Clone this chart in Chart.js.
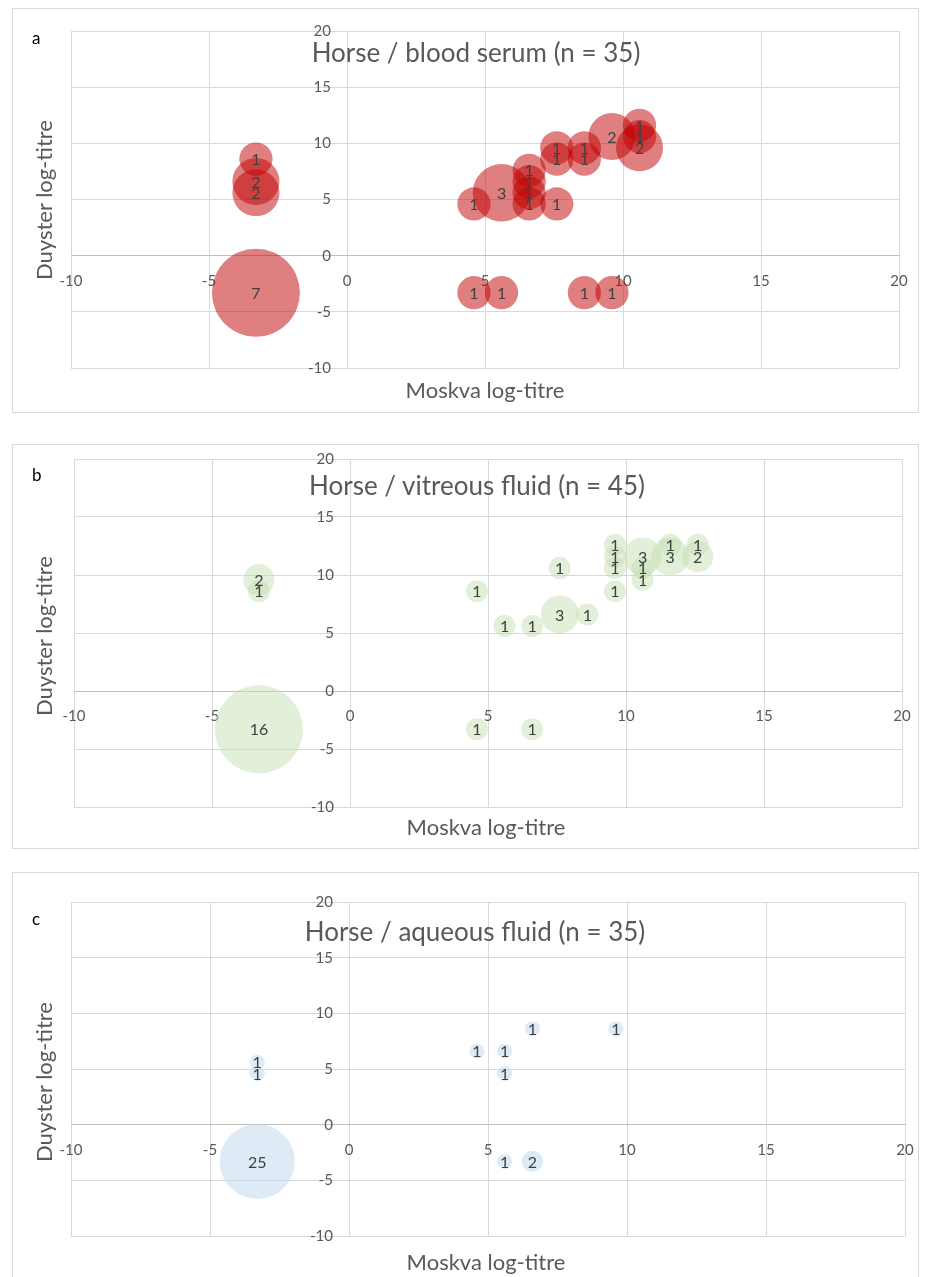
<!DOCTYPE html>
<html>
<head>
<meta charset="utf-8">
<script src="https://cdn.jsdelivr.net/npm/chart.js@4.4.1/dist/chart.umd.min.js"></script>
<style>
  html, body { margin: 0; padding: 0; background: #fff; }
  body { width: 928px; height: 1277px; position: relative; overflow: hidden; font-family: Lato, "Open Sans", sans-serif; }
  .frame { position: absolute; left: 12px; width: 907px; border: 1px solid #d9d9d9; box-sizing: border-box; }
  .wrap { position: absolute; left: 0; width: 928px; }
  .wrap canvas { position: absolute; left: 0; top: 0; }
  .txt { position: absolute; white-space: nowrap; transform: translate(-50%, -50%); color: #595959; line-height: 1; }
  .letter { position: absolute; white-space: nowrap; color: #000; font-size: 17px; line-height: 1; }
  .title { font-size: 26px; }
  .axt { font-size: 22px; }
  .rot { transform: translate(-50%, -50%) rotate(-90deg); }
</style>
</head>
<body>
  <div class="frame" style="top:8px;height:405px;"></div>
  <div class="frame" style="top:444px;height:405px;"></div>
  <div class="frame" style="top:872px;height:410px;"></div>

  <div class="wrap" style="top:8px;height:404px;"><canvas id="chartA" width="928" height="404"></canvas></div>
  <div class="wrap" style="top:444px;height:404px;"><canvas id="chartB" width="928" height="404"></canvas></div>
  <div class="wrap" style="top:872px;height:405px;"><canvas id="chartC" width="928" height="405"></canvas></div>

  <div class="letter" style="left:32px;top:29px;">a</div>
  <div class="txt title" style="left:476px;top:52px;">Horse / blood serum (n = 35)</div>
  <div class="txt axt rot" style="left:44px;top:200px;">Duyster log-titre</div>
  <div class="txt axt" style="left:485px;top:390px;">Moskva log-titre</div>

  <div class="letter" style="left:32px;top:466px;">b</div>
  <div class="txt title" style="left:477px;top:485px;">Horse / vitreous fluid (n = 45)</div>
  <div class="txt axt rot" style="left:44px;top:636px;">Duyster log-titre</div>
  <div class="txt axt" style="left:486px;top:827px;">Moskva log-titre</div>

  <div class="letter" style="left:32px;top:910px;">c</div>
  <div class="txt title" style="left:475px;top:931px;">Horse / aqueous fluid (n = 35)</div>
  <div class="txt axt rot" style="left:44px;top:1082px;">Duyster log-titre</div>
  <div class="txt axt" style="left:486px;top:1262px;">Moskva log-titre</div>

<script>
// Axis range and tick spacing shared by all three panels
const axisMin = -10;
const axisMax = 20;
const tickStep = 5;

// Panel a: blood serum — Moskva log-titre (x), Duyster log-titre (y), number of horses (n)
const serumX = [-3.3, -3.3, -3.3, -3.3, 4.6, 5.6, 8.6, 9.6, 4.6, 5.6, 6.6, 6.6, 6.6, 6.6, 7.6, 7.6, 7.6, 8.6, 8.6, 9.6, 10.6, 10.6, 10.6];
const serumY = [-3.3, 8.6, 6.6, 5.6, -3.3, -3.3, -3.3, -3.3, 4.6, 5.6, 4.6, 5.6, 6.6, 7.6, 4.6, 9.6, 8.6, 9.6, 8.6, 10.6, 11.6, 10.6, 9.6];
const serumN = [7, 1, 2, 2, 1, 1, 1, 1, 1, 3, 1, 1, 1, 1, 1, 1, 1, 1, 1, 2, 1, 1, 2];

// Panel b: vitreous fluid
const vitreousX = [-3.3, -3.3, -3.3, 4.6, 6.6, 4.6, 5.6, 6.6, 7.6, 8.6, 7.6, 9.6, 9.6, 9.6, 9.6, 10.6, 10.6, 10.6, 11.6, 11.6, 12.6, 12.6];
const vitreousY = [-3.3, 9.6, 8.6, -3.3, -3.3, 8.6, 5.6, 5.6, 6.6, 6.6, 10.6, 12.6, 11.6, 10.6, 8.6, 11.6, 10.6, 9.6, 12.6, 11.6, 12.6, 11.6];
const vitreousN = [16, 2, 1, 1, 1, 1, 1, 1, 3, 1, 1, 1, 1, 1, 1, 3, 1, 1, 1, 3, 1, 2];

// Panel c: aqueous fluid
const aqueousX = [-3.3, -3.3, -3.3, 4.6, 5.6, 5.6, 6.6, 9.6, 5.6, 6.6];
const aqueousY = [-3.3, 5.6, 4.6, 6.6, 6.6, 4.6, 8.6, 8.6, -3.3, -3.3];
const aqueousN = [25, 1, 1, 1, 1, 1, 1, 1, 1, 2];

const tickFont = { family: 'Lato', size: 15 };
const tickColor = '#595959';

// Writes the count at the centre of each bubble
const countLabels = {
  id: 'countLabels',
  afterDatasetsDraw(chart) {
    const ctx = chart.ctx;
    ctx.save();
    ctx.font = '16px Lato';
    ctx.fillStyle = '#404040';
    ctx.textAlign = 'center';
    ctx.textBaseline = 'middle';
    chart.data.datasets.forEach((ds, i) => {
      const meta = chart.getDatasetMeta(i);
      meta.data.forEach((el, j) => {
        ctx.fillText(String(ds.counts[j]), el.x, el.y + 1);
      });
    });
    ctx.restore();
  }
};

// Axes sit on the zero lines, so they should not reserve any room of their own
function noScalePadding(scale) {
  scale.paddingLeft = 0;
  scale.paddingRight = 0;
  scale.paddingTop = 0;
  scale.paddingBottom = 0;
}

function bubbleChart(id, xs, ys, ns, color, maxRadius, pad) {
  const maxN = Math.max(...ns);
  const points = xs.map((x, i) => ({ x: x, y: ys[i], r: maxRadius * Math.sqrt(ns[i] / maxN) }));
  return new Chart(document.getElementById(id), {
    type: 'bubble',
    data: {
      datasets: [{
        data: points,
        counts: ns,
        backgroundColor: color,
        borderWidth: 0,
        hoverBorderWidth: 0,
        clip: false
      }]
    },
    options: {
      responsive: false,
      animation: false,
      events: [],
      layout: { autoPadding: false, padding: pad },
      plugins: { legend: { display: false }, tooltip: { enabled: false }, title: { display: false } },
      scales: {
        x: {
          type: 'linear',
          min: axisMin, max: axisMax,
          position: { y: 0 },
          ticks: { stepSize: tickStep, padding: 16, color: tickColor, font: tickFont },
          grid: { color: '#d9d9d9', lineWidth: 1, drawTicks: false },
          border: { color: '#bfbfbf', width: 1 },
          afterFit: noScalePadding
        },
        y: {
          type: 'linear',
          min: axisMin, max: axisMax,
          // labels end a little left of the zero line
          position: { x: -0.58 },
          ticks: { stepSize: tickStep, padding: 0, color: tickColor, font: tickFont },
          grid: { color: '#d9d9d9', lineWidth: 1, drawTicks: false },
          border: { display: false },
          afterFit: noScalePadding
        }
      }
    },
    plugins: [countLabels]
  });
}

function drawAll() {
  bubbleChart('chartA', serumX, serumY, serumN, 'rgba(192,0,0,0.5)', 44, { left: 71, right: 29, top: 23, bottom: 44 });
  bubbleChart('chartB', vitreousX, vitreousY, vitreousN, 'rgba(197,224,180,0.5)', 44, { left: 74, right: 26, top: 15, bottom: 41 });
  bubbleChart('chartC', aqueousX, aqueousY, aqueousN, 'rgba(189,215,238,0.5)', 37.5, { left: 71, right: 23, top: 30, bottom: 41 });
}

if (document.fonts && document.fonts.load) {
  Promise.all([document.fonts.load('16px Lato'), document.fonts.load('15px Lato')]).then(drawAll, drawAll);
} else {
  drawAll();
}
</script>
</body>
</html>
